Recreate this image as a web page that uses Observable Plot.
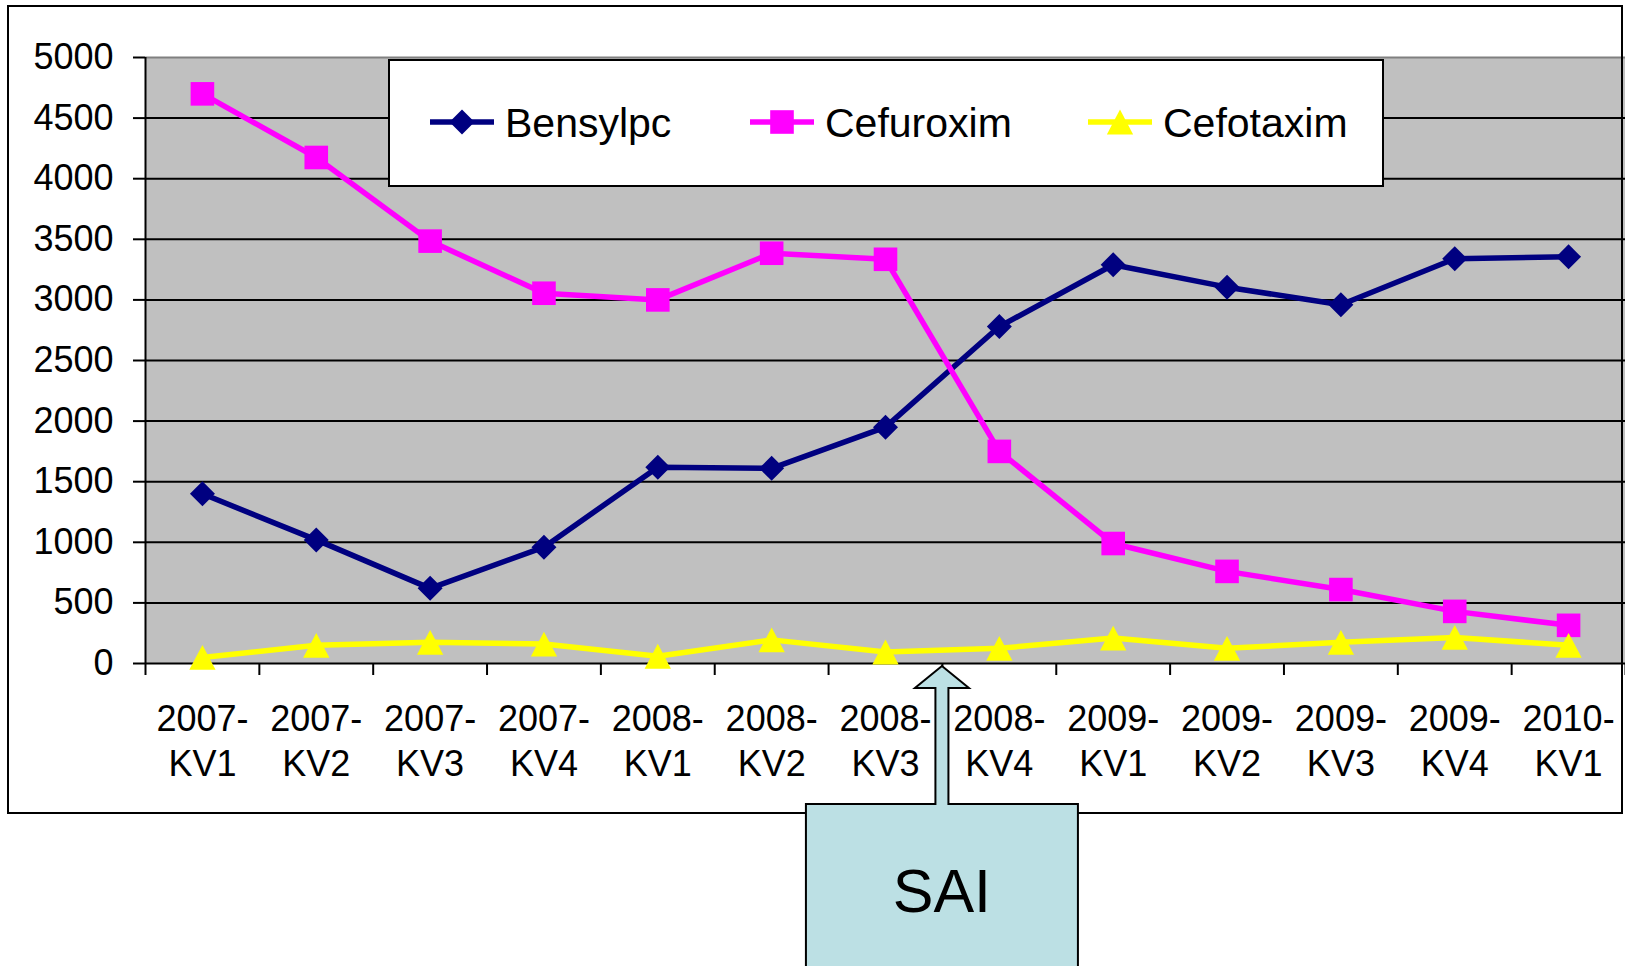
<!DOCTYPE html>
<html>
<head>
<meta charset="utf-8">
<script src="https://cdn.jsdelivr.net/npm/d3@7"></script>
<script src="https://cdn.jsdelivr.net/npm/@observablehq/plot@0.6"></script>
<style>
  html, body { margin: 0; padding: 0; background: #fff; }
  #wrap { position: relative; width: 1625px; height: 966px; overflow: hidden;
          font-family: "Liberation Sans", Arial, sans-serif; }
  #chart { position: absolute; left: 0; top: 0; }
  #chart svg g[aria-label$="axis tick"] { stroke-width: 2px; }
  #chart svg .tick line { stroke-width: 2px; }
</style>
</head>
<body>
<div id="wrap"><div id="chart"></div></div>
<script>
// ---- data ----
const quarterLabels = ["2007-KV1","2007-KV2","2007-KV3","2007-KV4","2008-KV1","2008-KV2","2008-KV3","2008-KV4","2009-KV1","2009-KV2","2009-KV3","2009-KV4","2010-KV1"];
const bensylpc  = [1400, 1020, 620, 960, 1620, 1610, 1950, 2780, 3290, 3105, 2960, 3340, 3355];
const cefuroxim = [4700, 4175, 3485, 3055, 3000, 3385, 3335, 1750, 990, 760, 610, 430, 315];
const cefotaxim = [50, 150, 175, 160, 60, 195, 95, 125, 210, 125, 175, 215, 150];
const yTicks = [0, 500, 1000, 1500, 2000, 2500, 3000, 3500, 4000, 4500, 5000];
const seriesNames = ["Bensylpc", "Cefuroxim", "Cefotaxim"];
const seriesColors = ["#000080", "#FF00FF", "#FFFF00"];
const annotationText = "SAI";
const annotationAt = 6.5; // between 2008-KV3 and 2008-KV4

// ---- symbols (radius = r) ----
const diamond = {draw(ctx, size) { const r = Math.sqrt(size / Math.PI);
  ctx.moveTo(0, -r); ctx.lineTo(r, 0); ctx.lineTo(0, r); ctx.lineTo(-r, 0); ctx.closePath(); }};
const square = {draw(ctx, size) { const r = Math.sqrt(size / Math.PI);
  ctx.moveTo(-r, -r); ctx.lineTo(r, -r); ctx.lineTo(r, r); ctx.lineTo(-r, r); ctx.closePath(); }};
const triangle = {draw(ctx, size) { const r = Math.sqrt(size / Math.PI);
  ctx.moveTo(0, -r); ctx.lineTo(1.06 * r, r); ctx.lineTo(-1.06 * r, r); ctx.closePath(); }};
const symbols = [diamond, square, triangle];
const symbolR = [12.5, 11.8, 12.4];

const values = [bensylpc, cefuroxim, cefotaxim];
const rows = seriesNames.map((name, s) => values[s].map((v, i) => ({series: name, i, value: v})));
const xBounds = d3.range(quarterLabels.length + 1).map(k => k - 0.5);

const FONT = "'Liberation Sans', Arial, sans-serif";

const seriesMarks = rows.flatMap((data, s) => [
  Plot.line(data, {x: "i", y: "value", stroke: seriesColors[s], strokeWidth: 5.5, strokeLinejoin: "round"}),
  Plot.dot(data, {x: "i", y: "value", symbol: symbols[s], r: symbolR[s], fill: seriesColors[s], stroke: "none"})
]);

const chart = Plot.plot({
  width: 1625,
  height: 966,
  marginLeft: 145,
  marginRight: 0,
  marginTop: 57,
  marginBottom: 303,
  style: {fontSize: "36px", fontFamily: FONT, background: "transparent", color: "#000"},
  x: {domain: [-0.5, quarterLabels.length - 0.5], ticks: xBounds, tickSize: 12, tickFormat: () => "", label: null},
  y: {domain: [0, 5000], ticks: yTicks, tickSize: 12, tickPadding: 20, tickFormat: "d", label: null},
  marks: [
    Plot.frame({fill: "#C0C0C0", stroke: "none"}),
    Plot.ruleY(yTicks.filter(v => v > 0 && v < 5000), {stroke: "#000", strokeWidth: 2}),
    Plot.ruleY([5000], {stroke: "#808080", strokeWidth: 2}),
    Plot.ruleY([0], {stroke: "#000", strokeWidth: 2}),
    Plot.ruleX([-0.5], {stroke: "#000", strokeWidth: 2}),
    ...seriesMarks,
    Plot.text(quarterLabels, {
      x: (d, i) => i,
      text: d => d.replace("-", "-\n"),
      frameAnchor: "bottom",
      lineAnchor: "top",
      lineHeight: 1.25,
      dy: 36,
      fontSize: 36,
      fill: "#000"
    })
  ]
});
document.getElementById("chart").appendChild(chart);

// ---- overlay: outer frame, legend, annotation ----
const ov = d3.select("#wrap").append("svg")
  .attr("width", 1625).attr("height", 966)
  .style("position", "absolute").style("left", 0).style("top", 0)
  .style("font-family", FONT);

ov.append("rect").attr("x", 8).attr("y", 6).attr("width", 1614).attr("height", 807)
  .attr("fill", "none").attr("stroke", "#000").attr("stroke-width", 2);

// legend
ov.append("rect").attr("x", 389).attr("y", 60).attr("width", 994).attr("height", 126)
  .attr("fill", "#fff").attr("stroke", "#000").attr("stroke-width", 2);
const legendX = [430, 750, 1088];
seriesNames.forEach((name, s) => {
  const g = ov.append("g");
  const x0 = legendX[s], y0 = 122;
  g.append("line").attr("x1", x0).attr("x2", x0 + 64).attr("y1", y0).attr("y2", y0)
    .attr("stroke", seriesColors[s]).attr("stroke-width", 5.5);
  const p = d3.path();
  symbols[s].draw(p, Math.PI * symbolR[s] * symbolR[s]);
  g.append("path").attr("d", p.toString()).attr("transform", `translate(${x0 + 32},${y0})`)
    .attr("fill", seriesColors[s]);
  g.append("text").attr("x", x0 + 75).attr("y", 137).attr("font-size", 41).attr("fill", "#000").text(name);
});

// annotation callout
const tipX = chart.scale("x").apply(annotationAt);
const tipY = 666;
const d = [
  [tipX - 136, 975], [tipX - 136, 804], [tipX - 6.5, 804], [tipX - 6.5, 688], [tipX - 27, 688],
  [tipX, tipY], [tipX + 27, 688], [tipX + 6.5, 688], [tipX + 6.5, 804], [tipX + 136, 804], [tipX + 136, 975]
];
ov.append("path").attr("d", "M" + d.map(p => p.join(",")).join("L"))
  .attr("fill", "#BCE0E4").attr("stroke", "#000").attr("stroke-width", 2);
ov.append("text").attr("x", tipX).attr("y", 912).attr("text-anchor", "middle")
  .attr("font-size", 61).attr("fill", "#000").text(annotationText);
</script>
</body>
</html>
